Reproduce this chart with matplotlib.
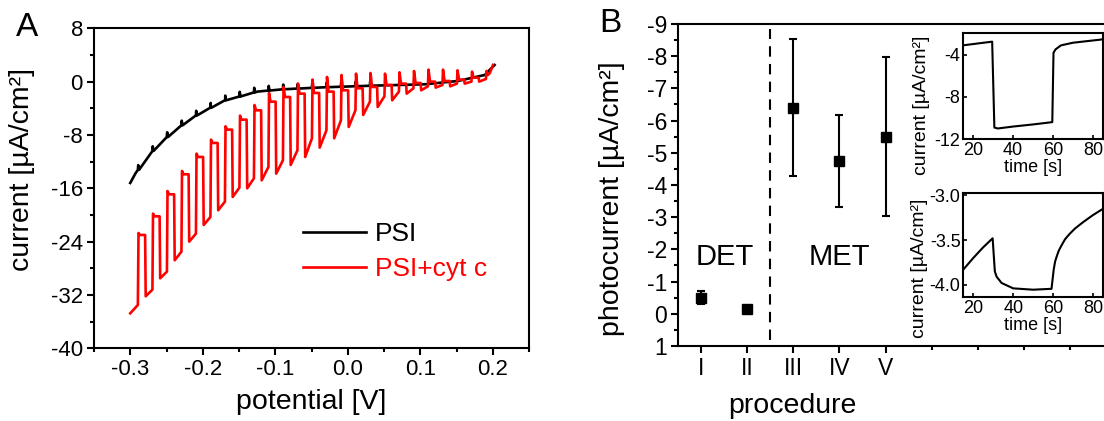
import matplotlib
matplotlib.use("Agg")
import matplotlib.pyplot as plt
import numpy as np
from matplotlib.ticker import MultipleLocator, FixedLocator

plt.rcParams['font.family'] = ['Liberation Sans', 'DejaVu Sans']
plt.rcParams['axes.unicode_minus'] = False
plt.rcParams['axes.linewidth'] = 1.5

# ---- panel A: chopped-light voltammetry ----
psi_v = [-0.300, -0.293, -0.270, -0.249, -0.231, -0.208, -0.189, -0.169, -0.148,
         -0.125, -0.090, -0.033, 0.036, 0.106, 0.152, 0.189, 0.2025]
psi_i = [-15.2, -13.8, -10.5, -8.3, -6.7, -5.0, -3.9, -2.8, -2.2,
         -1.5, -1.15, -0.85, -0.6, -0.4, 0.1, 1.0, 2.5]

# light-off edges (potential) and current levels read per pulse
pulse_v = [-0.289, -0.269, -0.249, -0.229, -0.209, -0.189, -0.169, -0.149, -0.129,
           -0.109, -0.089, -0.069, -0.049, -0.029, -0.009, 0.011, 0.031, 0.051,
           0.071, 0.091, 0.111, 0.131, 0.151, 0.171, 0.191]
top_i = [-22.7, -19.8, -16.4, -13.4, -10.8, -8.7, -6.7, -5.1, -3.5, -1.7, -0.8, -0.3,
         0.3, 0.7, 1.0, 1.2, 1.3, 1.2, 1.4, 1.6, 1.8, 1.8, 1.7, 1.5, 1.6]
upper_i = [-23.0, -20.2, -16.9, -13.9, -11.3, -9.2, -7.2, -5.7, -4.3, -3.0, -2.3, -1.8,
           -1.7, -1.5, -1.3, -1.0, -0.8, -0.5, -0.3, -0.2, 0.0, 0.1, 0.3, 0.6, 1.0]
bottom_i = [-32.2, -29.5, -26.8, -24.0, -21.5, -19.3, -17.3, -16.0, -14.8, -13.8, -12.5,
            -11.3, -9.9, -8.5, -6.8, -5.0, -3.8, -2.8, -1.8, -1.3, -0.9, -0.7, -0.3, 0.0]
lower_i = [-31.2, -28.5, -25.5, -22.8, -20.3, -18.0, -15.9, -14.5, -12.8, -11.8, -10.3,
           -8.5, -7.3, -5.8, -4.3, -3.0, -2.2, -1.5, -1.0, -0.7, -0.5, -0.3, 0.0, 0.4]
red_start_v, red_start_i = [-0.300, -0.2895], [-34.75, -33.5]
red_end_v, red_end_i = [0.196, 0.2003], [1.3, 2.5]

# ---- panel B ----
proc_x = [1, 2, 3, 4, 5]
proc_labels = ['I', 'II', 'III', 'IV', 'V']
photo = [-0.5, -0.14, -6.4, -4.74, -5.5]
photo_err = [0.2, 0.0, 2.13, 1.42, 2.47]

# insets: single light pulse transients
t1 = [15, 20, 25, 29.7, 30.8, 32.5, 40, 50, 59.7, 60.3, 61.3, 64, 70, 77, 85]
i1 = [-3.14, -3.02, -2.9, -2.79, -10.89, -10.98, -10.8, -10.6, -10.38,
      -3.84, -3.52, -3.14, -2.89, -2.74, -2.57]
t2 = [15, 20, 25, 29.7, 30.8, 31.7, 34.2, 40, 50, 59.2, 60.3, 61.0, 61.7, 62.8,
      64.2, 66, 68.3, 71, 75, 80, 85]
i2 = [-3.83, -3.70, -3.58, -3.48, -3.85, -3.91, -3.98, -4.04, -4.055, -4.045,
      -3.83, -3.74, -3.69, -3.62, -3.56, -3.49, -3.43, -3.37, -3.30, -3.22, -3.15]

W, H = 1104, 421
fig = plt.figure(figsize=(W / 100, H / 100), dpi=100)


def px_axes(l, t, r, b):
    return fig.add_axes([l / W, 1 - b / H, (r - l) / W, (b - t) / H])


def style_ticks(ax, size, length=5, mlength=3):
    ax.tick_params(which='major', direction='out', length=length, width=1.5,
                   labelsize=size, pad=3)
    ax.tick_params(which='minor', direction='out', length=mlength, width=1.5)


# build red chopped curve from the per-pulse levels
red_v = list(red_start_v)
red_i = list(red_start_i)
for k, v in enumerate(pulse_v):
    red_v += [v + 0.0004, v + 0.0025]
    red_i += [top_i[k], upper_i[k]]
    if k < len(bottom_i):
        red_v += [v + 0.0095, v + 0.0103, v + 0.0196]
        red_i += [upper_i[k], bottom_i[k], lower_i[k]]
red_v += red_end_v
red_i += red_end_i

# black curve with small spikes at the light-off edges
blk_v = list(psi_v)
blk_i = list(psi_i)
for v in pulse_v[:17]:
    base = np.interp(v, psi_v, psi_i)
    blk_v += [v - 0.0005, v, v + 0.0012]
    blk_i += [base, base + 0.7, base]
order = np.argsort(blk_v)
blk_v = np.array(blk_v)[order]
blk_i = np.array(blk_i)[order]

axA = px_axes(94, 28.3, 529, 348.3)
axA.plot(blk_v, blk_i, color='black', lw=1.9, label='PSI')
axA.plot(red_v, red_i, color='red', lw=1.9, label='PSI+cyt c')
axA.set_xlim(-0.35, 0.25)
axA.set_ylim(-40, 8)
axA.xaxis.set_major_locator(FixedLocator([-0.3, -0.2, -0.1, 0.0, 0.1, 0.2]))
axA.xaxis.set_minor_locator(MultipleLocator(0.05))
axA.yaxis.set_major_locator(MultipleLocator(8))
axA.yaxis.set_minor_locator(MultipleLocator(4))
axA.set_xticklabels(['-0.3', '-0.2', '-0.1', '0.0', '0.1', '0.2'])
style_ticks(axA, 16)
axA.set_xlabel('potential [V]', fontsize=20.5, labelpad=6)
axA.set_ylabel('current [µA/cm²]', fontsize=20.5)
axA.yaxis.set_label_coords(-0.136, 0.56)
axA.legend(loc='upper left', bbox_to_anchor=(0.48, 0.395), frameon=False,
           fontsize=19, handlelength=2.4, handletextpad=0.35, labelspacing=0.42,
           borderpad=0, borderaxespad=0, labelcolor='linecolor')
fig.text(27 / W, 1 - 27 / H, 'A', fontsize=24, ha='center', va='center')

# panel B
axB = px_axes(678, 24, 1107, 346)
axB.errorbar(proc_x, photo, yerr=photo_err, fmt='s', color='black', ms=7.5,
             capsize=2.8, elinewidth=1.5, capthick=1.5)
axB.axvline(2.5, ymin=0.02, ymax=0.985, color='black', lw=1.5, dashes=(5, 3.5))
axB.set_xlim(0.5, 9.8)
axB.set_ylim(1, -9)
axB.xaxis.set_major_locator(FixedLocator(proc_x))
axB.xaxis.set_minor_locator(FixedLocator([6, 7, 8, 9]))
axB.set_xticklabels(proc_labels)
axB.yaxis.set_major_locator(MultipleLocator(1))
axB.yaxis.set_minor_locator(MultipleLocator(0.5))
axB.spines['right'].set_visible(False)
style_ticks(axB, 16.5)
axB.set_xlabel('procedure', fontsize=20.5)
axB.xaxis.set_label_coords(0.2675, -0.145)
axB.set_ylabel('photocurrent [µA/cm²]', fontsize=20.5)
axB.yaxis.set_label_coords(-0.124, 0.458)
axB.text(1.52, -1.75, 'DET', fontsize=21, ha='center', va='center')
axB.text(4.0, -1.75, 'MET', fontsize=21, ha='center', va='center')
fig.text(610 / W, 1 - 24 / H, 'B', fontsize=24, ha='center', va='center')

# insets
in1 = px_axes(962.7, 33.3, 1103, 139.3)
in1.plot(t1, i1, color='black', lw=1.5)
in1.set_xlim(15, 85)
in1.set_ylim(-12, -2)
in1.set_xticks([20, 40, 60, 80])
in1.set_yticks([-4, -8, -12])
in1.tick_params(direction='in', length=3, width=1.2, labelsize=13, pad=2)
in1.set_xlabel('time [s]', fontsize=13, labelpad=0)
in1.set_ylabel('current [µA/cm²]', fontsize=14)
in1.yaxis.set_label_coords(-0.233, 0.32)

in2 = px_axes(963.3, 192.7, 1103, 297.3)
in2.plot(t2, i2, color='black', lw=1.5)
in2.set_xlim(15, 85)
in2.set_ylim(-4.14, -2.97)
in2.set_xticks([20, 40, 60, 80])
in2.set_yticks([-3.0, -3.5, -4.0])
in2.set_yticklabels(['-3.0', '-3.5', '-4.0'])
in2.tick_params(direction='in', length=3, width=1.2, labelsize=13, pad=2)
in2.set_xlabel('time [s]', fontsize=13, labelpad=0)
in2.set_ylabel('current [µA/cm²]', fontsize=14)
in2.yaxis.set_label_coords(-0.253, 0.275)

fig.savefig('out.png', dpi=100)
